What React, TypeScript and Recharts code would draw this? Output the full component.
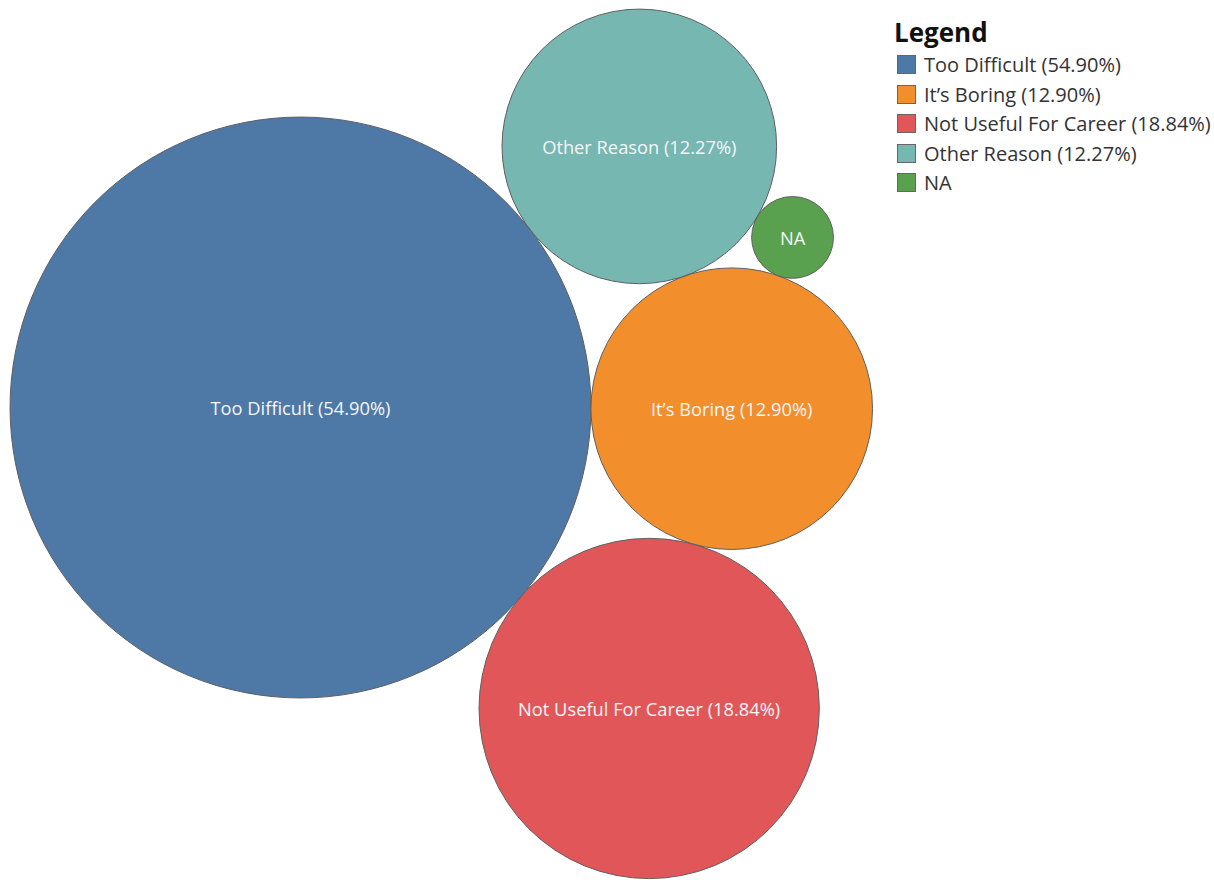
import { Scatter, ScatterChart, XAxis, YAxis, ZAxis, Cell } from 'recharts'

const categories = ['Too Difficult', 'Not Useful For Career', "It\u2019s Boring", 'Other Reason', 'NA']
const shares = [54.9, 18.84, 12.9, 12.27, 1.09]
const showShare = [true, true, true, true, false]
const colors = ['#4e79a7', '#e15759', '#f28e2b', '#76b7b2', '#59a14f']
const legendOrder = ['Too Difficult', "It\u2019s Boring", 'Not Useful For Career', 'Other Reason', 'NA']

const W = 1214
const H = 880
const PX = 39.2 // pixels per layout unit (radius = sqrt(share))
const START_ANGLE = -40.8 // degrees, direction of the 2nd bubble from the 1st
const TANGENT_PAIRS = [
  [0, 1],
  [0, 2],
  [3, 2],
]
const FONT = "'Open Sans', Lato, sans-serif"

type Bubble = { name: string; label: string; share: number; x: number; y: number; r: number }

// packed bubble layout: each new circle touches two already placed ones
function pack(): Bubble[] {
  const r = shares.map((s) => Math.sqrt(s))
  const pos: { x: number; y: number }[] = [{ x: 0, y: 0 }]
  const a0 = (START_ANGLE * Math.PI) / 180
  pos.push({ x: Math.cos(a0) * (r[0] + r[1]), y: Math.sin(a0) * (r[0] + r[1]) })
  for (let i = 2; i < shares.length; i++) {
    const [ia, ib] = TANGENT_PAIRS[i - 2]
    const A = pos[ia]
    const B = pos[ib]
    const da = r[ia] + r[i]
    const db = r[ib] + r[i]
    const dx = B.x - A.x
    const dy = B.y - A.y
    const d = Math.hypot(dx, dy)
    const a = (da * da - db * db + d * d) / (2 * d)
    const h = Math.sqrt(Math.max(da * da - a * a, 0))
    const ux = dx / d
    const uy = dy / d
    pos.push({ x: A.x + a * ux - h * uy, y: A.y + a * uy + h * ux })
  }
  return shares.map((s, i) => ({
    name: categories[i],
    label: showShare[i] ? `${categories[i]} (${s.toFixed(2)}%)` : categories[i],
    share: s,
    x: pos[i].x,
    y: pos[i].y,
    r: r[i],
  }))
}

const bubbles = pack()
// place the first bubble's center on the canvas
const originX = 300.5
const originY = 407.5
const xDomain = [-originX / PX, (W - originX) / PX]
const yDomain = [(originY - H) / PX, originY / PX]
const maxShare = Math.max(...shares)

function BubbleShape(props: any) {
  const { cx, cy, size, payload, fill } = props
  const r = Math.sqrt(Math.max(size, 0) / Math.PI)
  return (
    <g>
      <circle cx={cx} cy={cy} r={r} fill={fill} stroke="#5f5f5f" strokeWidth={1} />
      <text
        x={cx}
        y={cy}
        textAnchor="middle"
        dominantBaseline="central"
        fill="#f4f6f8"
        fontSize={18.3}
        fontFamily={FONT}
      >
        {payload.label}
      </text>
    </g>
  )
}

function LegendBox() {
  return (
    <div style={{ position: 'absolute', left: 894, top: 15, fontFamily: FONT }}>
      <div style={{ fontSize: 26, fontWeight: 700, color: '#111', lineHeight: '34px', marginBottom: 1 }}>Legend</div>
      {legendOrder.map((name) => {
        const i = categories.indexOf(name)
        const b = bubbles[i]
        return (
          <div key={name} style={{ display: 'flex', alignItems: 'center', height: 29.5 }}>
            <span
              style={{
                width: 19,
                height: 19,
                background: colors[i],
                border: '1px solid #666',
                marginLeft: 3,
                marginRight: 8,
                boxSizing: 'border-box',
                display: 'inline-block',
                flexShrink: 0,
              }}
            />
            <span style={{ fontSize: 20, color: '#333', whiteSpace: 'nowrap' }}>{b.label}</span>
          </div>
        )
      })}
    </div>
  )
}

export default function App() {
  return (
    <div style={{ position: 'absolute', left: 0, top: 0, width: W, height: H, background: '#fff' }}>
      <ScatterChart width={W} height={H} margin={{ top: 0, right: 0, bottom: 0, left: 0 }}>
        <XAxis type="number" dataKey="x" domain={xDomain} allowDataOverflow hide />
        <YAxis type="number" dataKey="y" domain={yDomain} allowDataOverflow hide />
        <ZAxis type="number" dataKey="share" domain={[0, maxShare]} range={[0, Math.PI * PX * PX * maxShare]} />
        <Scatter data={bubbles} shape={<BubbleShape />} isAnimationActive={false}>
          {bubbles.map((b, i) => (
            <Cell key={b.name} fill={colors[i]} />
          ))}
        </Scatter>
      </ScatterChart>
      <LegendBox />
    </div>
  )
}
